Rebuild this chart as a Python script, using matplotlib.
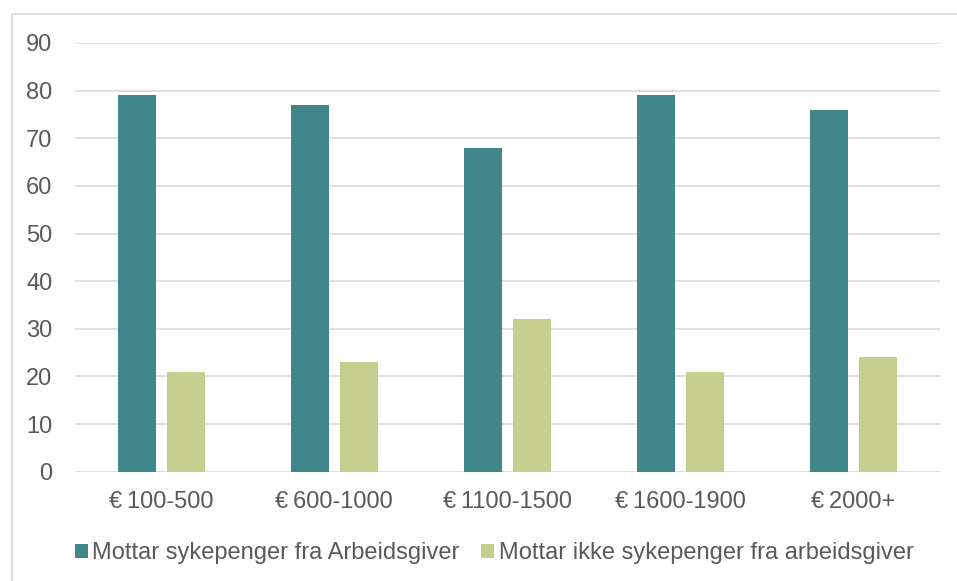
import numpy as np
import matplotlib.pyplot as plt
from matplotlib.patches import Rectangle

# Data
categories = ["€\u2009100-500", "€\u2009600-1000", "€\u20091100-1500", "€\u20091600-1900", "€\u20092000+"]
mottar = [79, 77, 68, 79, 76]
mottar_ikke = [21, 23, 32, 21, 24]
series_names = ["Mottar sykepenger fra Arbeidsgiver", "Mottar ikke sykepenger fra arbeidsgiver"]

plt.rcParams['font.family'] = ['Liberation Sans', 'DejaVu Sans']

fig = plt.figure(figsize=(9.57, 5.81), dpi=100)
ax = fig.add_axes([0.078, 0.188, 0.904, 0.738])

# Outer chart border (runs off right and bottom edges)
fig.patches.append(Rectangle((12/957, -0.05), 1.0, 1.05 - 13.5/581,
                             transform=fig.transFigure, fill=False,
                             edgecolor='#D9D9D9', linewidth=1.2))

x = np.arange(len(categories))
w = 0.22
ax.bar(x - 0.142, mottar, w, color='#3F878A', label=series_names[0], zorder=3)
ax.bar(x + 0.142, mottar_ikke, w, color='#C6CE8D', label=series_names[1], zorder=3)

ax.set_xlim(-0.5, len(categories) - 0.5)
ax.set_ylim(0, 90)
ax.set_yticks(np.arange(0, 91, 10))
ax.set_xticks(x)
ax.set_xticklabels(categories)
ax.yaxis.grid(True, color='#D9D9D9', linewidth=1.2, zorder=0)
for s in ax.spines.values():
    s.set_visible(False)
ax.tick_params(length=0, labelsize=17, colors='#595959')
ax.tick_params(axis='x', pad=14)
ax.tick_params(axis='y', pad=16)

ax.legend(loc='center', bbox_to_anchor=(0.485, -0.19), ncol=2, frameon=False,
          fontsize=17, labelcolor='#595959', handlelength=0.55, handleheight=0.55,
          handletextpad=0.2, columnspacing=0.9)

fig.savefig('out.png', dpi=100)
